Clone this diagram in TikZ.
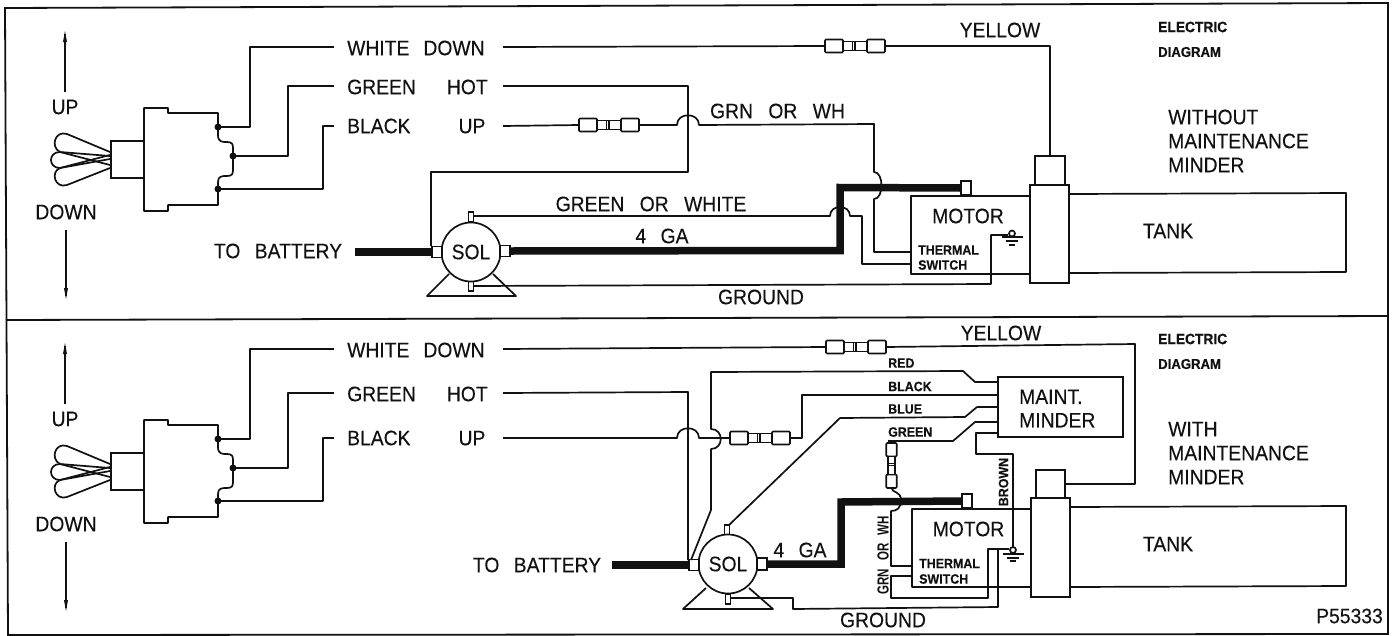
\documentclass[tikz,border=0pt]{standalone}
\usepackage{fontspec}
\setmainfont{Liberation Sans}[FakeStretch=0.92,FakeBold=0.25]
\newfontfamily\condfont{Liberation Sans}[FakeStretch=0.72]
\definecolor{ink}{HTML}{111111}
\tikzset{
  wire/.style={draw=ink,line width=1.7pt,line join=round},
  heavy/.style={draw=ink,line width=7.5pt,line join=miter},
  part/.style={draw=ink,line width=1.7pt,fill=white,inner sep=0pt,outer sep=0pt,minimum width=#1},
  part/.default=10pt,
  solcircle/.style={draw=ink,line width=1.7pt,fill=white,circle,minimum size=59pt,inner sep=0pt,outer sep=0pt,text=ink,font=\fontsize{21}{21}\selectfont},
  lab/.style={inner sep=0pt,text=ink,font=\fontsize{21}{24}\selectfont},
  tiny/.style={inner sep=0pt,text=ink,font=\fontsize{13.5}{15}\selectfont\bfseries},
  dot/.style={circle,fill=ink,inner sep=0pt,minimum size=7pt},
  arrowup/.style={draw=ink,line width=1.5pt},
  pics/fuse/.style={code={
    \draw[wire,fill=white,rounded corners=1pt] (-30,-6.5) rectangle (-12,6.5);
    \draw[wire,fill=white,rounded corners=1pt] (12,-6.5) rectangle (30,6.5);
    \draw[wire,line width=1.3pt,fill=white] (-12,-4.5) rectangle (0,4.5);
    \draw[wire,line width=1.3pt,fill=white] (0,-4.5) rectangle (12,4.5);
    \draw[wire,line width=1.1pt] (-2.5,-4.5) -- (-2.5,4.5);
    \coordinate (-w) at (-30,0);
    \coordinate (-e) at (30,0);
  }},
  pics/toggle/.style={code={
    \draw[arrowup] (65,92) -- (65,34);
    \fill[ink] (65,31) -- (63,42) -- (67,42) -- cycle;
    \draw[arrowup] (66,230) -- (66,296);
    \fill[ink] (66,299) -- (64,288) -- (68,288) -- cycle;
    \node[lab] (-up) at (65,107) {UP};
    \node[lab] (-down) at (66,212) {DOWN};
    \draw[wire] (110,152) -- (67,134) .. controls (55,130) and (50,147) .. (60,152) -- (110,165);
    \draw[wire] (110,156) -- (60,152) .. controls (48,152) and (48,168) .. (60,168) -- (110,159);
    \draw[wire] (110,168) -- (67,185) .. controls (55,189) and (50,172) .. (60,168) -- (110,155);
    \draw[part] (111,141) rectangle (144,178);
    \draw[wire,fill=white] (144,108) -- (168,108) -- (168,113) -- (218,113) -- (218,135)
       .. controls (218,142) and (222,142) .. (227,142) .. controls (232,142) and (233,144) .. (233,148)
       -- (233,170) .. controls (233,174) and (232,176) .. (227,176)
       .. controls (222,176) and (218,176) .. (218,182) -- (218,205) -- (168,205) -- (168,211) -- (144,211) -- cycle;
    \node[dot] (-a) at (218,127) {};
    \node[dot] (-b) at (233,156) {};
    \node[dot] (-c) at (218,189) {};
  }},
  pics/earth/.style={code={
    \draw[wire] (0,0) circle (3);
    \draw[wire,line width=2pt] (-10.5,3.5) -- (10.5,3.5);
    \draw[wire,line width=2pt] (-6,7.5) -- (6,7.5);
    \draw[wire,line width=2pt] (-3,11) -- (3,11);
  }},
}
\begin{document}
\begin{tikzpicture}[x=1pt,y=-1pt]
\useasboundingbox (0,0) rectangle (1397,635);
\fill[white] (0,0) rectangle (1397,635);
% frame
\draw[draw=ink,line width=1.8pt] (5,8) -- (1388,3) -- (1388,634) -- (8,635) -- cycle;
\draw[draw=ink,line width=1.8pt] (6,320) -- (1388,316);

% ---------- upper panel ----------
\pic (s1) at (0,0) {toggle};
\coordinate (t1w) at (334,47);
\coordinate (t1g) at (334,86);
\coordinate (t1b) at (334,126);
\draw[wire] (s1-a.center) -| (250,47) -- (t1w);
\draw[wire] (s1-b.center) -| (288,86) -- (t1g);
\draw[wire] (s1-c.center) -| (323,126) -- (t1b);
\node[lab,anchor=west] (n1) at (347,48) {WHITE\hspace{14pt}DOWN};
\node[lab,anchor=west] (n2) at (347,87) {GREEN\hspace{31pt}HOT};
\node[lab,anchor=west] (n3) at (347,126) {BLACK\hspace{48pt}UP};
\node[lab] (n4) at (278,251) {TO\hspace{9pt} BATTERY};
\node[lab] (n5) at (1000,30) {YELLOW};
\node[lab] (n6) at (777.5,111) {GRN\hspace{10pt} OR\hspace{10pt} WH};
\node[lab] (n7) at (651,204) {GREEN\hspace{10pt} OR\hspace{10pt} WHITE};
\node[lab] (n8) at (662,236) {4\hspace{9pt} GA};
\node[lab] (n9) at (761,297) {GROUND};
\node[tiny,anchor=west,font=\fontsize{15}{16}\selectfont\bfseries] (n10) at (1158,27) {ELECTRIC};
\node[tiny,anchor=west,font=\fontsize{14.3}{16}\selectfont\bfseries] (n11) at (1158,52) {DIAGRAM};
\node[lab,anchor=west] (n12) at (1168,117) {WITHOUT};
\node[lab,anchor=west] (n13) at (1168,141) {MAINTENANCE};
\node[lab,anchor=west] (n14) at (1168,165) {MINDER};
\node[lab] (n15) at (1168,231) {TANK};

% tank, motor, pump
\draw[wire] (1069,194) -- (1346,193) -- (1346,272) -- (1069,273);
\draw[wire] (1030,196) -- (911,196) -- (911,274) -- (1030,274);
\node[part,minimum width=30pt,minimum height=29pt] (cap1) at (1050,170.5) {};
\node[part,minimum width=39pt,minimum height=98pt] (pump1) at (1049.5,234) {};
\node[lab] (n16) at (968,216) {MOTOR};
\node[tiny,anchor=west] (n17) at (918,250) {THERMAL};
\node[tiny,anchor=west] (n18) at (918,265) {SWITCH};

% solenoid
\draw[wire] (449,274) -- (427,296) -- (516,296) -- (493,274);
\node[part,minimum width=5pt,minimum height=10pt] (p1t) at (471,217) {};
\node[part,minimum width=5pt,minimum height=10pt] (p1b) at (471,286) {};
\node[solcircle] (sol1) at (471,252) {SOL};
\node[part,minimum width=10pt,minimum height=11pt] (p1l) at (437,252) {};
\node[part,minimum width=10pt,minimum height=11pt] (p1r) at (505,251) {};
\node[part,minimum width=10pt,minimum height=14pt] (m1t) at (966,188) {};

\pic (f1) at (855,46) {fuse};
\pic (f2) at (609,125) {fuse};

% heavy leads
\draw[heavy] (355,252) -- (p1l.west);
\draw[heavy] (p1r.east) -- (840,250.5) -- (840,187.5) -- (m1t.west);

% wires
\coordinate (e1) at (503,47);
\coordinate (e2) at (503,86);
\coordinate (e3) at (503,126);
\draw[wire] (e1) -- (f1-w);
\draw[wire] (f1-e) -- (1050,46) -- (cap1.north);
\draw[wire] (e2) -- (688,86) -- (688,172) -- (431,172) -- (431,246);
\draw[wire] (e3) -- (f2-w);
\draw[wire] (f2-e) -- (677,125) .. controls (677,112) and (699,112) .. (699,125) -- (874,124) -- (874,172)
   .. controls (884,172) and (884,199) .. (874,199) -- (874,252) -- (911,252);
\draw[wire] (p1t.north east) ++(0,4) -- (830,216) .. controls (830,204) and (850,204) .. (850,216) -- (862,216) -- (862,264) -- (911,264);
\draw[wire] (p1b.east) -- (991,284) -- (991,235) -- (1008,235);
\pic (g1) at (1012,233.5) {earth};

% ---------- lower panel ----------
\pic (s2) at (0,312) {toggle};
\coordinate (t2w) at (334,349);
\coordinate (t2g) at (334,393);
\coordinate (t2b) at (334,438);
\draw[wire] (s2-a.center) -| (250,349) -- (t2w);
\draw[wire] (s2-b.center) -| (288,393) -- (t2g);
\draw[wire] (s2-c.center) -| (323,438) -- (t2b);
\node[lab,anchor=west] (l1) at (347,350) {WHITE\hspace{14pt}DOWN};
\node[lab,anchor=west] (l2) at (347,394) {GREEN\hspace{31pt}HOT};
\node[lab,anchor=west] (l3) at (347,438) {BLACK\hspace{48pt}UP};
\node[lab] (l4) at (537,565) {TO\hspace{9pt} BATTERY};
\node[lab] (l5) at (1001,333) {YELLOW};
\node[lab] (l6) at (800,550) {4\hspace{9pt} GA};
\node[lab] (l7) at (883,620) {GROUND};
\node[tiny,anchor=west,font=\fontsize{15}{16}\selectfont\bfseries] (l8) at (1158,339) {ELECTRIC};
\node[tiny,anchor=west,font=\fontsize{14.3}{16}\selectfont\bfseries] (l9) at (1158,364) {DIAGRAM};
\node[lab,anchor=west] (l10) at (1168,429) {WITH};
\node[lab,anchor=west] (l11) at (1168,453) {MAINTENANCE};
\node[lab,anchor=west] (l12) at (1168,477) {MINDER};
\node[lab] (l13) at (1168,544) {TANK};
\node[lab,anchor=east] (l14) at (1383,616) {P55333};
\node[tiny,anchor=west] (l15) at (888,363) {RED};
\node[tiny,anchor=west] (l16) at (888,386.5) {BLACK};
\node[tiny,anchor=west] (l17) at (888,409) {BLUE};
\node[tiny,anchor=west] (l18) at (888,432) {GREEN};
\node[tiny,rotate=90] (l19) at (1003.5,482) {BROWN};
\node[tiny,rotate=90,font=\fontsize{16}{16}\condfont\bfseries] (l20) at (883,555.5) {GRN\hspace{8pt}OR\hspace{8pt}WH};

% tank, motor, pump
\draw[wire] (1070,507) -- (1346,506) -- (1346,586) -- (1070,587);
\draw[wire] (1031,509) -- (912,509) -- (912,587) -- (1031,587);
\node[part,minimum width=29pt,minimum height=28pt] (cap2) at (1050.5,484) {};
\node[part,minimum width=39pt,minimum height=99pt] (pump2) at (1050.5,547.5) {};
\node[lab] (l21) at (968.5,529) {MOTOR};
\node[tiny,anchor=west] (l22) at (919,563.5) {THERMAL};
\node[tiny,anchor=west] (l23) at (919,579) {SWITCH};
\node[part,minimum width=125pt,minimum height=60pt] (mm) at (1060.5,407) {};
\node[lab,align=left,anchor=west] (l24) at (1019,408.5) {MAINT.\\[-.5pt]MINDER};

% solenoid
\draw[wire] (706,588) -- (683,609) -- (773,609) -- (749,588);
\node[part,minimum width=5pt,minimum height=10pt] (p2t) at (727,530) {};
\node[part,minimum width=5pt,minimum height=10pt] (p2b) at (728,599) {};
\node[solcircle] (sol2) at (728,564) {SOL};
\node[part,minimum width=10pt,minimum height=11pt] (p2l) at (694,565) {};
\node[part,minimum width=10pt,minimum height=12pt] (p2r) at (762,564) {};
\node[part,minimum width=10pt,minimum height=14pt] (m2t) at (967,501) {};

\pic (f3) at (856,347) {fuse};
\pic (f4) at (760,438) {fuse};
\pic[rotate=-90,xscale=.75,yscale=.8] (f5) at (891.5,465.5) {fuse};

% heavy leads
\draw[heavy] (612,565) -- (p2l.west);
\draw[heavy] (p2r.east) -- (841,564) -- (841,502) -- (m2t.west);

% wires
\coordinate (e4) at (503,349);
\coordinate (e5) at (503,393);
\coordinate (e6) at (503,438);
\draw[wire] (e4) -- (f3-w);
\draw[wire] (f3-e) -- (1135,344) -- (1135,484) -- (cap2.east);
\draw[wire] (e5) -- (688,392) -- (688,560);
\draw[wire] (e6) -- (677,438) .. controls (677,425) and (699,425) .. (699,438) -- (f4-w);
\draw[wire] (f4-e) -- (802,438) -- (802,395) -- (mm.west |- 0,395);
\draw[wire] (691,560) -- (711,510) -- (711,449) .. controls (724,449) and (724,429) .. (711,429)
   -- (711,372) -- (963,371) -- (975,382) -- (mm.west |- 0,382);
\draw[wire] (p2t.north) ++(2,0) -- (840,418) -- (965,417) -- (977,407) -- (mm.west |- 0,407);
\draw[wire] (f5-w) -- (891.5,441);
\draw[wire] (888,441) -- (953,441) -- (975,422) -- (mm.west |- 0,422);
\draw[wire] (f5-e) .. controls (892,493) and (901,491) .. (901,500) .. controls (901,508) and (897,511) .. (891,511) -- (891,566) -- (912,566);
\draw[wire] (912,576) -- (891,576) -- (891,598) -- (988,598) -- (988,549) -- (1009,549);
\draw[wire] (p2b.east) ++(0,-1) -- (793,598) -- (793,609) -- (998,607) -- (998,550);
\draw[wire] (mm.west |- 0,433) -- (976,433) -- (976,454) -- (1013,454) -- (1013,547);
\pic (g2) at (1013,550) {earth};
\end{tikzpicture}
\end{document}
